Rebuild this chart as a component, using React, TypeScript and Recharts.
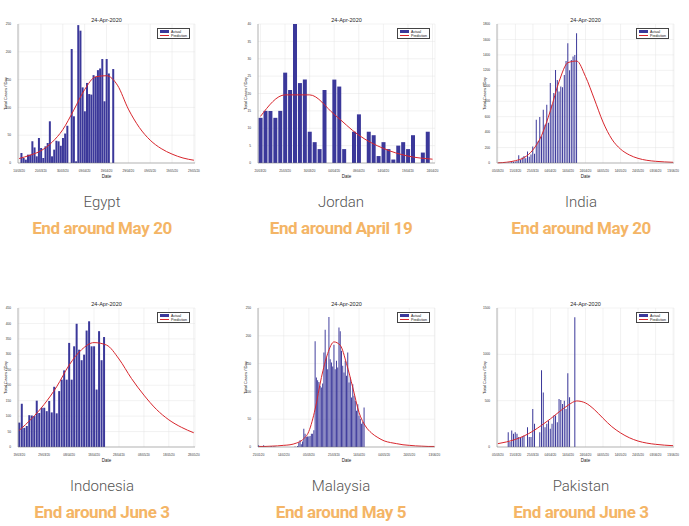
import React from 'react';
import { ComposedChart, Bar, Line, XAxis, YAxis, CartesianGrid, Legend } from 'recharts';

const REPORT_DATE = '24-Apr-2020';
const PRED_STEP = 5; // prediction values are read every 5 days

// Egypt
const egyptStart = '2020-03-10';
const egyptDays = 81;
const egyptActualFrom = 1;
const egyptActual = [18, 9, 6, 15, 15, 39, 28, 12, 45, 27, 9, 30, 36, 75, 12, 24, 40, 39, 31, 45, 53, 67, 0, 205, 84, 3, 248, 238, 136, 93, 144, 124, 123, 158, 155, 167, 170, 187, 111, 187, 161, 0, 169];
const egyptPrediction = [8, 14, 22, 37, 60, 95, 132, 155, 157, 140, 97, 64, 41, 26, 16, 9, 5];
const egyptYTicks = [0, 50, 100, 150, 200, 250];
const egyptXTicks = ['10/03/20', '20/03/20', '30/03/20', '09/04/20', '19/04/20', '29/04/20', '09/05/20', '19/05/20', '29/05/20'];

// Jordan
const jordanStart = '2020-03-20';
const jordanDays = 36;
const jordanActualFrom = 0;
const jordanActual = [13, 15, 15, 13, 15, 26, 21, 40, 23, 24, 9, 6, 4, 21, 0, 24, 22, 4, 0, 9, 14, 0, 9, 8, 2, 6, 4, 1, 5, 6, 4, 8, 0, 3, 9, 0];
const jordanPrediction = [13.4, 19.6, 19.6, 14, 8, 4.2, 2, 1.1];
const jordanYTicks = [0, 5, 10, 15, 20, 25, 30, 35, 40];
const jordanXTicks = ['20/03/20', '25/03/20', '30/03/20', '04/04/20', '09/04/20', '14/04/20', '19/04/20', '24/04/20'];

// India
const indiaStart = '2020-03-05';
const indiaDays = 101;
const indiaActualFrom = 1;
const indiaActual = [2, 0, 3, 5, 2, 8, 6, 12, 15, 20, 25, 100, 40, 70, 90, 60, 150, 80, 110, 215, 120, 560, 280, 595, 345, 690, 495, 755, 520, 1035, 755, 905, 1205, 1075, 925, 990, 980, 1140, 1320, 1550, 1200, 1335, 1380, 1400, 1680];
const indiaPrediction = [2, 10, 30, 70, 170, 360, 680, 1060, 1300, 1320, 1120, 830, 530, 310, 180, 105, 60, 35, 22, 14, 9];
const indiaYTicks = [0, 200, 400, 600, 800, 1000, 1200, 1400, 1600, 1800];
const indiaXTicks = ['05/03/20', '15/03/20', '25/03/20', '04/04/20', '14/04/20', '24/04/20', '04/05/20', '14/05/20', '24/05/20', '03/06/20', '13/06/20'];

// Indonesia
const indonesiaStart = '2020-03-19';
const indonesiaDays = 71;
const indonesiaActualFrom = 0;
const indonesiaActual = [79, 140, 62, 68, 103, 102, 100, 150, 110, 127, 127, 116, 149, 112, 195, 109, 181, 218, 248, 218, 337, 218, 326, 399, 315, 281, 299, 377, 407, 326, 326, 186, 375, 281, 356];
const indonesiaPrediction = [54, 92, 138, 195, 265, 315, 338, 330, 285, 222, 168, 122, 88, 64, 46];
const indonesiaYTicks = [0, 50, 100, 150, 200, 250, 300, 350, 400, 450];
const indonesiaXTicks = ['19/03/20', '29/03/20', '08/04/20', '18/04/20', '28/04/20', '08/05/20', '18/05/20', '28/05/20'];

// Malaysia
const malaysiaStart = '2020-01-25';
const malaysiaDays = 141;
const malaysiaActualFrom = 0;
const malaysiaActual = [3, 0, 1, 0, 3, 1, 0, 0, 0, 0, 2, 0, 1, 1, 0, 0, 0, 0, 0, 0, 0, 0, 0, 0, 0, 0, 0, 0,
  0, 1, 0, 2, 8, 12, 5, 10, 33, 24, 18, 19, 19, 20, 24, 24, 30, 190, 125, 120, 117, 110, 107, 114, 170, 211, 161, 140, 234, 158, 152, 145, 184, 140, 155, 143, 215, 208, 173, 146, 134, 155, 128, 170, 116, 125, 89, 113, 92, 83, 65, 77, 56, 51, 42, 45, 71];
const malaysiaPrediction = [1, 1, 1.5, 2, 3, 4, 7, 13, 28, 68, 125, 168, 189, 183, 150, 107, 62, 38, 25, 17, 11, 8, 6, 4, 3, 2, 1.5, 1, 1];
const malaysiaYTicks = [0, 50, 100, 150, 200, 250];
const malaysiaXTicks = ['25/01/20', '14/02/20', '05/03/20', '25/03/20', '14/04/20', '04/05/20', '24/05/20', '13/06/20'];

// Pakistan
const pakistanStart = '2020-03-05';
const pakistanDays = 101;
const pakistanActualFrom = 6;
const pakistanActual = [160, 54, 179, 143, 160, 143, 107, 100, 107, 125, 0, 214, 107, 107, 410, 250, 0, 0, 160, 829, 589, 214, 250, 286, 196, 250, 340, 340, 268, 518, 507, 464, 500, 410, 796, 536, 0, 0, 1400];
const pakistanPrediction = [36, 55, 82, 120, 171, 235, 304, 380, 450, 497, 475, 405, 310, 220, 152, 100, 64, 42, 29, 20, 14];
const pakistanYTicks = [0, 500, 1000, 1500];
const pakistanXTicks = indiaXTicks;

const countries = ['Egypt', 'Jordan', 'India', 'Indonesia', 'Malaysia', 'Pakistan'];
const endTexts = ['End around May 20', 'End around April 19', 'End around May 20', 'End around June 3', 'End around May 5', 'End around June 3'];

const BAR_COLOR = '#3b389a';
const LINE_COLOR = '#d8262d';
const CHART_W = 230;
const CHART_H = 170;
const COL_X = [0, 240, 479];
const ROW_Y = [10, 294];
const COL_CENTER = [102, 341, 581];

const fmtDate = (t: number) => {
  const d = new Date(t);
  return `${String(d.getUTCDate()).padStart(2, '0')}/${String(d.getUTCMonth() + 1).padStart(2, '0')}/20`;
};

function buildRows(start: string, days: number, from: number, actual: number[], pred: number[]) {
  const t0 = Date.parse(start + 'T00:00:00Z');
  return Array.from({ length: days }, (_, i) => ({
    date: fmtDate(t0 + i * 86400000),
    actual: i >= from && i - from < actual.length ? actual[i - from] : null,
    prediction: i % PRED_STEP === 0 && pred[i / PRED_STEP] !== undefined ? pred[i / PRED_STEP] : null,
  }));
}

const panels = [
  { rows: buildRows(egyptStart, egyptDays, egyptActualFrom, egyptActual, egyptPrediction), yTicks: egyptYTicks, xTicks: egyptXTicks },
  { rows: buildRows(jordanStart, jordanDays, jordanActualFrom, jordanActual, jordanPrediction), yTicks: jordanYTicks, xTicks: jordanXTicks },
  { rows: buildRows(indiaStart, indiaDays, indiaActualFrom, indiaActual, indiaPrediction), yTicks: indiaYTicks, xTicks: indiaXTicks },
  { rows: buildRows(indonesiaStart, indonesiaDays, indonesiaActualFrom, indonesiaActual, indonesiaPrediction), yTicks: indonesiaYTicks, xTicks: indonesiaXTicks },
  { rows: buildRows(malaysiaStart, malaysiaDays, malaysiaActualFrom, malaysiaActual, malaysiaPrediction), yTicks: malaysiaYTicks, xTicks: malaysiaXTicks },
  { rows: buildRows(pakistanStart, pakistanDays, pakistanActualFrom, pakistanActual, pakistanPrediction), yTicks: pakistanYTicks, xTicks: pakistanXTicks },
];

const LegendBox = () => (
  <div style={{ border: '0.5px solid #444', background: '#fff', padding: '0.5px 2px', fontSize: 3.6, lineHeight: '4px', color: '#111', fontFamily: 'Liberation Sans, Arial, sans-serif' }}>
    <div style={{ display: 'flex', alignItems: 'center' }}>
      <span style={{ display: 'inline-block', width: 9, height: 2.5, background: BAR_COLOR, marginRight: 2 }} />Actual
    </div>
    <div style={{ display: 'flex', alignItems: 'center' }}>
      <span style={{ display: 'inline-block', width: 9, height: 0.8, background: LINE_COLOR, marginRight: 2 }} />Prediction
    </div>
  </div>
);

type PanelProps = { idx: number };

const Panel = ({ idx }: PanelProps) => {
  const p = panels[idx];
  const left = COL_X[idx % 3];
  const top = ROW_Y[Math.floor(idx / 3)];
  const yMax = p.yTicks[p.yTicks.length - 1];
  return (
    <div style={{ position: 'absolute', left, top, width: CHART_W, height: CHART_H }}>
      <div style={{ position: 'absolute', left: 18, width: 177, top: 7, textAlign: 'center', fontSize: 5.5, color: '#222', fontFamily: 'Liberation Sans, Arial, sans-serif' }}>
        {REPORT_DATE}
      </div>
      <ComposedChart
        width={CHART_W}
        height={CHART_H}
        data={p.rows}
        margin={{ top: 14, right: 35, bottom: 4, left: 4 }}
        barCategoryGap="12%"
        style={{ fontFamily: 'Liberation Sans, Arial, sans-serif' }}
      >
        <CartesianGrid stroke="#e4e4e4" strokeWidth={0.5} />
        <XAxis
          dataKey="date"
          ticks={p.xTicks}
          interval={0}
          height={13}
          tick={{ fontSize: 3, fill: '#333' }}
          tickLine={false}
          tickMargin={0.5}
          axisLine={{ stroke: '#777', strokeWidth: 0.5 }}
          label={{ value: 'Date', position: 'insideBottom', offset: -2, fontSize: 4.5, fill: '#222' }}
        />
        <YAxis
          width={14}
          domain={[0, yMax]}
          ticks={p.yTicks}
          interval={0}
          tick={{ fontSize: 3.2, fill: '#333' }}
          tickLine={false}
          tickMargin={1}
          axisLine={{ stroke: '#777', strokeWidth: 0.5 }}
          label={{ value: 'Total Cases / Day', angle: -90, position: 'insideLeft', offset: 2, fontSize: 4.2, fill: '#222', style: { textAnchor: 'middle' } }}
        />
        <Legend
          layout="horizontal"
          verticalAlign="middle"
          align="center"
          wrapperStyle={{ top: 18, right: 40, left: 'auto', width: 'auto' }}
          content={() => <LegendBox />}
        />
        <Bar dataKey="actual" name="Actual" fill={BAR_COLOR} isAnimationActive={false} />
        <Line
          dataKey="prediction"
          name="Prediction"
          type="monotone"
          stroke={LINE_COLOR}
          strokeWidth={1}
          dot={false}
          connectNulls
          isAnimationActive={false}
        />
      </ComposedChart>
    </div>
  );
};

const Caption = ({ idx }: PanelProps) => {
  const row = Math.floor(idx / 3);
  const cx = COL_CENTER[idx % 3];
  const top = row === 0 ? 192 : 476;
  return (
    <div style={{ position: 'absolute', left: cx - 115, width: 230, top, textAlign: 'center' }}>
      <div style={{ fontFamily: 'Roboto, sans-serif', fontWeight: 300, fontSize: 15, color: '#555', lineHeight: '20px' }}>
        {countries[idx]}
      </div>
      <div style={{ fontFamily: 'Roboto, sans-serif', fontWeight: 700, fontSize: 17, color: '#f4b566', lineHeight: '20px', marginTop: 6, letterSpacing: -0.4 }}>
        {endTexts[idx]}
      </div>
    </div>
  );
};

export default function App() {
  return (
    <div style={{ position: 'relative', width: 689, height: 526, background: '#fff', overflow: 'hidden' }}>
      <style>{'body{margin:0}'}</style>
      {countries.map((c, i) => (
        <Panel key={c} idx={i} />
      ))}
      {countries.map((c, i) => (
        <Caption key={c + '-cap'} idx={i} />
      ))}
    </div>
  );
}
